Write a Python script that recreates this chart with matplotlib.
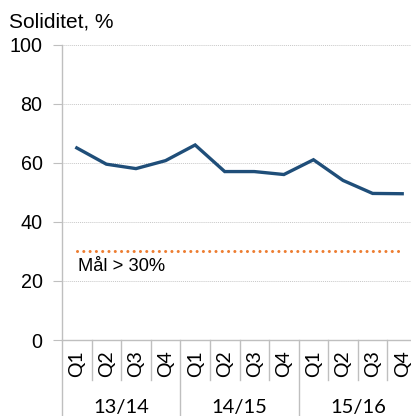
"""Soliditet per kvartal, line chart with target line."""

import matplotlib
matplotlib.use("Agg")
import matplotlib.pyplot as plt
from matplotlib.lines import Line2D
from matplotlib.transforms import blended_transform_factory

QUARTERS = ["Q1", "Q2", "Q3", "Q4"] * 3
YEARS = ["13/14", "14/15", "15/16"]
SOLIDITET = [65, 59.5, 58, 60.7, 66, 57, 57, 56, 61, 54, 49.6, 49.5]
TARGET = 30
TARGET_LABEL = "Mål > 30%"
Y_TICKS = [0, 20, 40, 60, 80, 100]

LINE_COLOR = "#1F4E79"
TARGET_COLOR = "#ED7D31"
AXIS_COLOR = "#BFBFBF"

plt.rcParams["font.family"] = ["Liberation Sans", "DejaVu Sans"]

fig = plt.figure(figsize=(4.11, 4.16), dpi=100)
W, H = 411, 416
left, right, bottom, top = 62, 417, 340, 44.5
ax = fig.add_axes([left / W, (H - bottom) / H, (right - left) / W, (bottom - top) / H])

x = list(range(len(SOLIDITET)))
ax.plot(x, SOLIDITET, color=LINE_COLOR, linewidth=2.4, solid_joinstyle="miter")
ax.plot(x, [TARGET] * len(x), color=TARGET_COLOR, linewidth=2.2,
        linestyle=(0, (0.01, 2.05)), dash_capstyle="round")
ax.text(0.05, TARGET - 2.2, TARGET_LABEL, ha="left", va="top", fontsize=13.2,
        color="black")

ax.set_xlim(-0.5, len(x) - 0.5)
ax.set_ylim(0, 100)
ax.set_yticks(Y_TICKS)
ax.set_yticklabels([str(v) for v in Y_TICKS], fontsize=14.2)
ax.tick_params(axis="y", length=6.5, width=0.8, color=AXIS_COLOR, pad=7.5)
ax.set_xticks([])
ax.grid(axis="y", color="#C8C8C8", linestyle=(0, (1, 1)), linewidth=0.7)
for spine in ["top", "right"]:
    ax.spines[spine].set_visible(False)
ax.spines["left"].set_color(AXIS_COLOR)
ax.spines["bottom"].set_color(AXIS_COLOR)
ax.spines["left"].set_linewidth(1.0)
ax.spines["bottom"].set_linewidth(1.0)

fig.text(9 / W, (H - 22) / H, "Soliditet, %", fontsize=15, ha="left", va="center")

# category axis: quarters and fiscal years with separators
tr = blended_transform_factory(ax.transData, fig.transFigure)
q_bottom = (H - 380) / H
for i, q in enumerate(QUARTERS):
    ax.text(i, (H - 364) / H, q, transform=tr, rotation=90, ha="center",
            va="center", fontsize=14, family="Lato", clip_on=False)
for i in range(len(QUARTERS) + 1):
    y_end = 0 if i % 4 == 0 else q_bottom
    fig.add_artist(Line2D([i - 0.5, i - 0.5], [(H - bottom) / H, y_end],
                          transform=tr, color=AXIS_COLOR, linewidth=1.0))
for j, year in enumerate(YEARS):
    ax.text(j * 4 + 1.5, (H - 407) / H, year, transform=tr, ha="center",
            va="center", fontsize=14.5, family="Lato", clip_on=False)

fig.savefig("out.png", dpi=100)
